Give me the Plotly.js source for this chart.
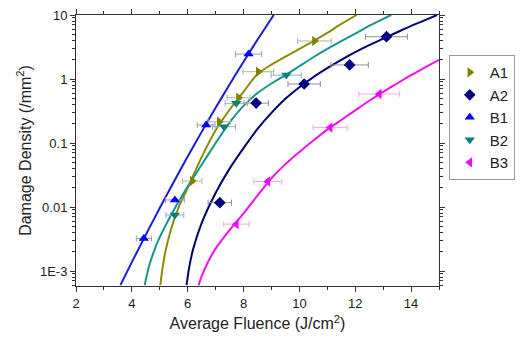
<!DOCTYPE html>
<html>
<head>
<meta charset="utf-8">
<script src="https://cdn.plot.ly/plotly-3.0.1.min.js"></script>
<style>html,body{margin:0;padding:0;background:#fff;}#chart{width:527px;height:338px;}</style>
</head>
<body>
<div id="chart"></div>
<script>
// Measured points (fluence J/cm^2, damage density /mm^2, horizontal error)
const a1X = [6.16, 7.13, 7.82, 8.53, 10.54];
const a1Y = [0.0255, 0.215, 0.51, 1.30, 3.93];
const a1E = [0.35, 0.40, 0.41, 0.55, 0.60];

const a2X = [7.15, 8.45, 10.17, 11.8, 13.12];
const a2Y = [0.0117, 0.42, 0.835, 1.66, 4.58];
const a2E = [0.42, 0.44, 0.58, 0.67, 0.75];

const b1X = [4.43, 5.54, 6.66, 8.18];
const b1Y = [0.00323, 0.0129, 0.191, 2.45];
const b1E = [0.27, 0.34, 0.32, 0.47];

const b2X = [5.54, 7.30, 7.74, 9.53];
const b2Y = [0.0075, 0.18, 0.417, 1.15];
const b2E = [0.32, 0.41, 0.40, 0.54];

const b3X = [7.74, 8.87, 11.1, 12.86];
const b3Y = [0.0054, 0.025, 0.174, 0.583];
const b3E = [0.45, 0.50, 0.61, 0.73];

// Fit curves (x, log10 of density)
const fitA1X = [5.02, 5.1, 5.2, 5.4, 5.7, 6.0, 6.5, 7.0, 7.5, 8.0, 8.5, 9.0, 9.5, 10.0, 10.5, 11.0, 11.5, 12.05];
const fitA1L = [-3.22, -2.95, -2.70, -2.35, -1.98, -1.70, -1.22, -0.80, -0.48, -0.20, 0.08, 0.225, 0.35, 0.47, 0.59, 0.72, 0.86, 1.0];

const fitA2X = [5.96, 6.05, 6.2, 6.5, 7.0, 7.5, 8.0, 8.5, 9.0, 9.5, 10.0, 10.5, 11.0, 11.5, 12.0, 12.5, 13.0, 13.5, 14.0, 14.5, 14.93];
const fitA2L = [-3.22, -2.95, -2.65, -2.25, -1.78, -1.40, -1.08, -0.78, -0.53, -0.31, -0.13, 0.03, 0.17, 0.30, 0.42, 0.53, 0.63, 0.73, 0.83, 0.92, 1.0];

const fitB1X = [3.59, 4.0, 4.5, 5.0, 5.5, 6.0, 6.5, 7.0, 7.5, 8.0, 8.5, 9.08];
const fitB1L = [-3.22, -2.861, -2.433, -2.016, -1.608, -1.212, -0.826, -0.45, -0.085, 0.27, 0.614, 1.0];

const fitB2X = [4.46, 4.6, 4.8, 5.0, 5.5, 6.0, 6.5, 7.0, 7.5, 8.0, 8.5, 9.0, 9.5, 10.0, 10.5, 11.0, 11.5, 12.0, 12.5, 13.0, 13.29];
const fitB2L = [-3.22, -2.95, -2.68, -2.47, -2.05, -1.68, -1.34, -1.0, -0.68, -0.42, -0.22, -0.07, 0.06, 0.2, 0.34, 0.47, 0.59, 0.71, 0.83, 0.94, 1.0];

const fitB3X = [6.39, 6.5, 6.75, 7.0, 7.5, 8.0, 8.5, 9.0, 9.5, 10.0, 10.5, 11.0, 11.5, 12.0, 12.5, 13.0, 13.5, 14.0, 14.5, 15.0];
const fitB3L = [-3.22, -3.08, -2.84, -2.65, -2.36, -2.10, -1.82, -1.55, -1.33, -1.14, -0.96, -0.79, -0.64, -0.49, -0.34, -0.20, -0.07, 0.06, 0.18, 0.30];

const seriesNames = ['A1', 'A2', 'B1', 'B2', 'B3'];
const yTickVals = [0.001, 0.01, 0.1, 1, 10];
const yTickText = ['1E-3', '0.01', '0.1', '1', '10'];
const yMinorVals = [
  0.0006, 0.0007, 0.0008, 0.0009,
  0.002, 0.003, 0.004, 0.005, 0.006, 0.007, 0.008, 0.009,
  0.02, 0.03, 0.04, 0.05, 0.06, 0.07, 0.08, 0.09,
  0.2, 0.3, 0.4, 0.5, 0.6, 0.7, 0.8, 0.9,
  2, 3, 4, 5, 6, 7, 8, 9
];

const toPow = arr => arr.map(v => Math.pow(10, v));

function fit(x, l, color) {
  return {x: x, y: toPow(l), mode: 'lines', type: 'scatter', showlegend: false,
          hoverinfo: 'skip', line: {color: color, width: 2, shape: 'spline', smoothing: 0.6}};
}
function pts(name, x, y, e, color, symbol, ecolor) {
  return {x: x, y: y, name: name, mode: 'markers', type: 'scatter',
          marker: {color: color, symbol: symbol, size: 9},
          error_x: {type: 'data', array: e, visible: true, color: ecolor, thickness: 1, width: 3}};
}

const data = [
  fit(fitA1X, fitA1L, '#8c8c00'),
  fit(fitA2X, fitA2L, '#000070'),
  fit(fitB1X, fitB1L, '#1c1cd8'),
  fit(fitB2X, fitB2L, '#16968a'),
  fit(fitB3X, fitB3L, '#f010f0'),
  pts(seriesNames[0], a1X, a1Y, a1E, '#808000', 'triangle-right', '#b4b49a'),
  pts(seriesNames[1], a2X, a2Y, a2E, '#000080', 'diamond', '#8e8ea8'),
  pts(seriesNames[2], b1X, b1Y, b1E, '#0000ff', 'triangle-up', '#9898c8'),
  pts(seriesNames[3], b2X, b2Y, b2E, '#008080', 'triangle-down', '#98b0b0'),
  pts(seriesNames[4], b3X, b3Y, b3E, '#ff00ff', 'triangle-left', '#f0a8f0')
];

const axisCommon = {
  showline: true, linecolor: '#333', linewidth: 1, mirror: 'allticks',
  ticks: 'outside', ticklen: 5, tickcolor: '#333', showgrid: false, zeroline: false,
  tickfont: {family: 'Liberation Sans, Arial, sans-serif', size: 13, color: '#222'}
};

const layout = {
  width: 527, height: 338,
  margin: {l: 76, r: 80, t: 15, b: 52},
  paper_bgcolor: '#fff', plot_bgcolor: '#fff',
  font: {family: 'Liberation Sans, Arial, sans-serif', color: '#222'},
  xaxis: Object.assign({}, axisCommon, {
    range: [2, 15], dtick: 2, tick0: 2,
    minor: {dtick: 1, ticks: 'outside', ticklen: 3, tickcolor: '#333', showgrid: false},
    title: {text: 'Average Fluence (J/cm<sup>2</sup>)', font: {size: 16, color: '#222'}, standoff: 8}
  }),
  yaxis: Object.assign({}, axisCommon, {
    type: 'log', range: [-3.234, 1],
    tickmode: 'array', tickvals: yTickVals, ticktext: yTickText,
    minor: {tickmode: 'array', tickvals: yMinorVals, ticks: 'outside', ticklen: 3, tickcolor: '#333', showgrid: false},
    title: {text: 'Damage Density (/mm<sup>2</sup>)', font: {size: 16, color: '#222'}, standoff: 4}
  }),
  legend: {
    x: 1.027, y: 0.852, xanchor: 'left', yanchor: 'top',
    bordercolor: '#999', borderwidth: 1, bgcolor: '#fff',
    font: {size: 15, color: '#222'}, tracegroupgap: 0, itemwidth: 30
  }
};

Plotly.newPlot('chart', data, layout, {displayModeBar: false, staticPlot: true});
</script>
</body>
</html>
